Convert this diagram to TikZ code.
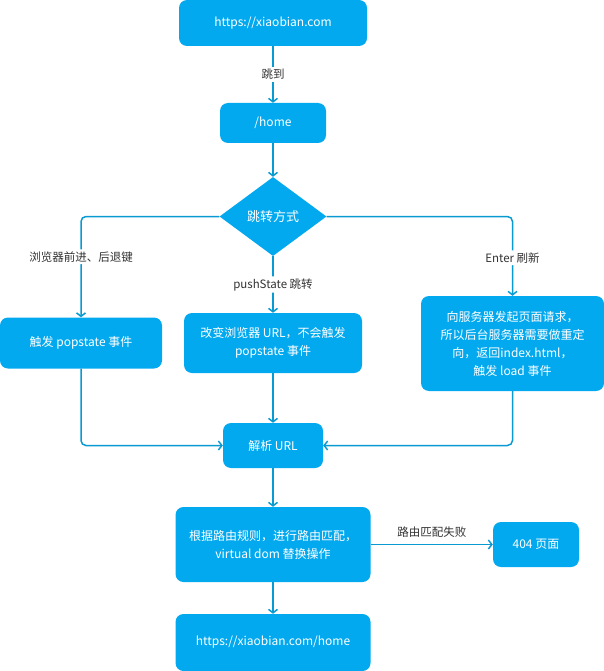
\documentclass[tikz,border=0pt]{standalone}
\usepackage{fontspec}
\setmainfont{Noto Sans CJK SC}
\usetikzlibrary{shapes,arrows.meta}
\definecolor{boxblue}{HTML}{03A9EF}
\definecolor{lineblue}{HTML}{0A9AD2}
\definecolor{labelgray}{HTML}{333333}
\tikzstyle{block}=[rectangle,rounded corners=8pt,fill=boxblue,text=white,align=center,inner sep=2pt,font=\fontsize{12pt}{18pt}\selectfont]
\tikzstyle{decision}=[diamond,fill=boxblue,text=white,inner sep=0pt,minimum width=107pt,minimum height=79pt,font=\fontsize{13pt}{16pt}\selectfont]
\tikzstyle{link}=[draw=lineblue,line width=1.5pt,rounded corners=5pt,-{Straight Barb[length=3.5pt,width=9pt]}]
\tikzstyle{lbl}=[fill=white,text=labelgray,inner sep=2pt,font=\fontsize{11.5pt}{14pt}\selectfont]

\begin{document}
\begin{tikzpicture}[x=1pt,y=-1pt]
\useasboundingbox (0,0) rectangle (604,671);

    \node[block,minimum width=188pt,minimum height=46pt] (url) at (273,23) {https://xiaobian.com};
    \node[block,minimum width=106pt,minimum height=40pt] (home) at (273,123) {/home};
    \node[decision] (way) at (273,216.5) {跳转方式};
    \node[block,minimum width=162pt,minimum height=51pt] (pop) at (81,343) {触发 popstate 事件};
    \node[block,minimum width=178pt,minimum height=60pt] (push) at (273,343) {改变浏览器 URL，不会触发\\popstate 事件};
    \node[block,minimum width=183pt,minimum height=95pt] (enter) at (512.5,343.5) {向服务器发起页面请求，\\所以后台服务器需要做重定\\向，返回index.html，\\触发 load 事件};
    \node[block,minimum width=100pt,minimum height=45pt] (parse) at (273,445.5) {解析 URL};
    \node[block,minimum width=195pt,minimum height=75pt] (match) at (273,544.5) {根据路由规则，进行路由匹配，\\virtual dom 替换操作};
    \node[block,minimum width=86pt,minimum height=45pt] (notfound) at (536,544.5) {404 页面};
    \node[block,minimum width=195pt,minimum height=57pt] (dest) at (273,642.5) {https://xiaobian.com/home};

\draw[link] (url) -- node[lbl]{跳到} (home);
\draw[link] (home) -- (way);
\draw[link] (way.west) -| node[lbl,pos=.7]{浏览器前进、后退键} (pop.north);
\draw[link] (way.south) -- node[lbl]{pushState 跳转} (push.north);
\draw[link] (way.east) -| node[lbl,pos=.76]{Enter 刷新} (enter.north);
\draw[link] (pop.south) |- (parse.west);
\draw[link] (push) -- (parse);
\draw[link] (enter.south) |- (parse.east);
\draw[link] (parse) -- (match);
\draw[link] (match.east) -- node[lbl,above=4pt]{路由匹配失败} (notfound.west);
\draw[link] (match) -- (dest);
\end{tikzpicture}
\end{document}
